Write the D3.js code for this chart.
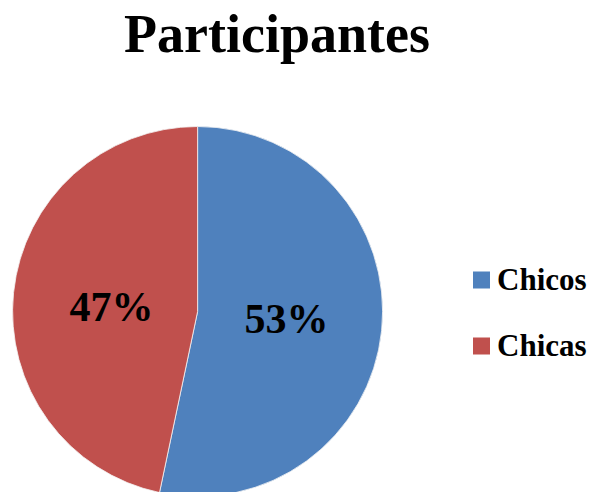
<!DOCTYPE html>
<html><head><meta charset="utf-8">
<script src="https://cdn.jsdelivr.net/npm/d3@7"></script>
<style>body{margin:0;background:#fff}svg{display:block}</style>
</head><body>
<script>
const categories = ["Chicos", "Chicas"];
const values = [53.3, 46.7];
const labels = ["53%", "47%"];
const colors = ["#4F81BD", "#C0504D"];
const title = "Participantes";

const W = 589, H = 492;
const svg = d3.select("body").append("svg").attr("width", W).attr("height", H);
const font = "'Liberation Serif','Times New Roman',serif";

svg.append("text").attr("x", 277).attr("y", 52).attr("text-anchor", "middle")
  .attr("font-family", font).attr("font-weight", "bold").attr("font-size", 54)
  .text(title);

const cx = 197.6, cy = 311.5, r = 185;
const pie = d3.pie().sort(null).value(d => d)(values);
const arc = d3.arc().innerRadius(0).outerRadius(r);
const g = svg.append("g").attr("transform", `translate(${cx},${cy})`);
g.selectAll("path").data(pie).join("path")
  .attr("d", arc).attr("fill", (d, i) => colors[i])
  .attr("stroke", "#f4f4f4").attr("stroke-width", 0.8);

const labelPos = [[89, 21], [-86, 9]];
g.selectAll("text.lbl").data(pie).join("text").attr("class", "lbl")
  .attr("x", (d, i) => labelPos[i][0]).attr("y", (d, i) => labelPos[i][1])
  .attr("text-anchor", "middle").attr("font-family", font).attr("font-weight", "bold")
  .attr("font-size", 42).text((d, i) => labels[i]);

const leg = svg.append("g");
categories.forEach((c, i) => {
  const y = 280 + i * 66;
  leg.append("rect").attr("x", 473).attr("y", y - 8.5).attr("width", 17).attr("height", 17).attr("fill", colors[i]);
  leg.append("text").attr("x", 497).attr("y", y + 10).attr("font-family", font)
    .attr("font-weight", "bold").attr("font-size", 31).text(c);
});
</script>
</body></html>
